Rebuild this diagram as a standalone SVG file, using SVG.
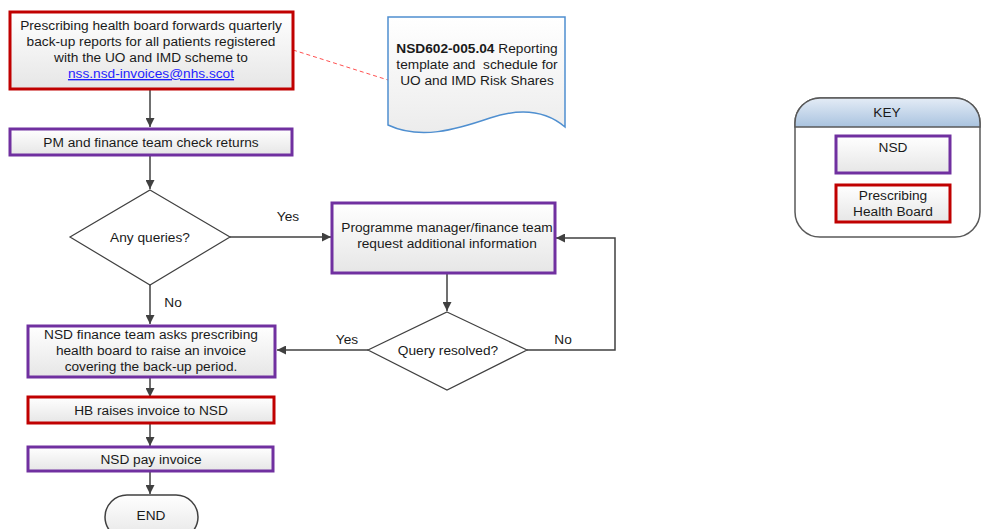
<svg xmlns="http://www.w3.org/2000/svg" width="982" height="529" viewBox="0 0 982 529">
<defs>
<linearGradient id="gBox" x1="0" y1="0" x2="0" y2="1">
<stop offset="0" stop-color="#ffffff"/><stop offset="1" stop-color="#e6e6e6"/>
</linearGradient>
<linearGradient id="gDoc" x1="0" y1="0" x2="0" y2="1">
<stop offset="0" stop-color="#ffffff"/><stop offset="1" stop-color="#ececec"/>
</linearGradient>
<linearGradient id="gKey" x1="0" y1="0" x2="0" y2="1">
<stop offset="0" stop-color="#e4ecf6"/><stop offset="1" stop-color="#a9c3df"/>
</linearGradient>
<marker id="arr" viewBox="0 0 10 10" refX="10" refY="5" markerWidth="9" markerHeight="9" markerUnits="userSpaceOnUse" orient="auto">
<path d="M0,0 L10,5 L0,10 Z" fill="#404040"/>
</marker>
<style>
text{font-family:"Liberation Sans",Arial,sans-serif;font-size:13.7px;fill:#1a1a1a;text-anchor:middle;white-space:pre}
.red{fill:url(#gBox);stroke:#c00000;stroke-width:3}
.pur{fill:url(#gBox);stroke:#7030a0;stroke-width:3}
.dia{fill:#ffffff;stroke:#404040;stroke-width:1.2}
.con{fill:none;stroke:#404040;stroke-width:1.5}
</style>
</defs>

<g id="connectors">
<path class="con" d="M150,90 V127" marker-end="url(#arr)"/>
<path class="con" d="M150,156 V189" marker-end="url(#arr)"/>
<path class="con" d="M230,237 H331" marker-end="url(#arr)"/>
<path class="con" d="M150,285 V324" marker-end="url(#arr)"/>
<path class="con" d="M447,274 V311" marker-end="url(#arr)"/>
<path class="con" d="M368,350 H277" marker-end="url(#arr)"/>
<path class="con" d="M527,350 H615 V238 H556" marker-end="url(#arr)"/>
<path class="con" d="M150,378 V397" marker-end="url(#arr)"/>
<path class="con" d="M150,424 V446" marker-end="url(#arr)"/>
<path class="con" d="M150,472 V494" marker-end="url(#arr)"/>
<path d="M293,50 L388,80" fill="none" stroke="#ff5050" stroke-width="1" stroke-dasharray="4,3"/>
<text x="288" y="221">Yes</text>
<text x="173" y="307">No</text>
<text x="347" y="344">Yes</text>
<text x="563" y="344">No</text>
</g>

<g id="n1">
<rect class="red" x="10" y="12" width="283" height="77"/>
<text x="151" y="30">Prescribing health board forwards quarterly</text>
<text x="151" y="46">back-up reports for all patients registered</text>
<text x="151" y="62">with the UO and IMD scheme to</text>
<text x="151" y="78" style="fill:#1f1fff;text-decoration:underline">nss.nsd-invoices@nhs.scot</text>
</g>

<g id="doc">
<path d="M388,17 H565 V127 C545,110 520,108 490,118 C455,130 420,140 388,125 Z" fill="url(#gDoc)" stroke="#4f8fd0" stroke-width="1.5"/>
<text x="477" y="53"><tspan font-weight="bold">NSD602-005.04</tspan> Reporting</text>
<text x="477" y="69">template and  schedule for</text>
<text x="477" y="85">UO and IMD Risk Shares</text>
</g>

<g id="n2">
<rect class="pur" x="10" y="129" width="282" height="26"/>
<text x="151" y="147">PM and finance team check returns</text>
</g>

<g id="d1">
<path class="dia" d="M150,190 L230,237 L150,285 L70,237 Z"/>
<text x="150" y="242">Any queries?</text>
</g>

<g id="n3">
<rect class="pur" x="332" y="203" width="223" height="70"/>
<text x="447" y="232">Programme manager/finance team</text>
<text x="447" y="248">request additional information</text>
</g>

<g id="d2">
<path class="dia" d="M447,312 L527,350 L447,390 L368,350 Z"/>
<text x="448" y="355">Query resolved?</text>
</g>

<g id="n4">
<rect class="pur" x="28" y="326" width="247" height="51"/>
<text x="151" y="339">NSD finance team asks prescribing</text>
<text x="151" y="355">health board to raise an invoice</text>
<text x="151" y="371">covering the back-up period.</text>
</g>

<g id="n5">
<rect class="red" x="28" y="397" width="246" height="26"/>
<text x="151" y="415">HB raises invoice to NSD</text>
</g>

<g id="n6">
<rect class="pur" x="28" y="447" width="245" height="24"/>
<text x="151" y="464">NSD pay invoice</text>
</g>

<g id="end">
<rect x="105" y="495" width="93" height="44" rx="22" fill="url(#gBox)" stroke="#404040" stroke-width="1.5"/>
<text x="151" y="520">END</text>
</g>

<g id="key">
<path d="M820,98 H955 A25,25 0 0 1 980,123 V212 A25,25 0 0 1 955,237 H820 A25,25 0 0 1 795,212 V123 A25,25 0 0 1 820,98 Z" fill="#ffffff" stroke="#595959" stroke-width="1.5"/>
<path d="M820,98 H955 A25,25 0 0 1 980,123 V127 H795 V123 A25,25 0 0 1 820,98 Z" fill="url(#gKey)" stroke="#595959" stroke-width="1.5"/>
<text x="887" y="117">KEY</text>
<rect class="pur" x="836" y="136" width="114" height="37"/>
<text x="893" y="152">NSD</text>
<rect class="red" x="836" y="185" width="114" height="37"/>
<text x="893" y="200">Prescribing</text>
<text x="893" y="216">Health Board</text>
</g>
</svg>
